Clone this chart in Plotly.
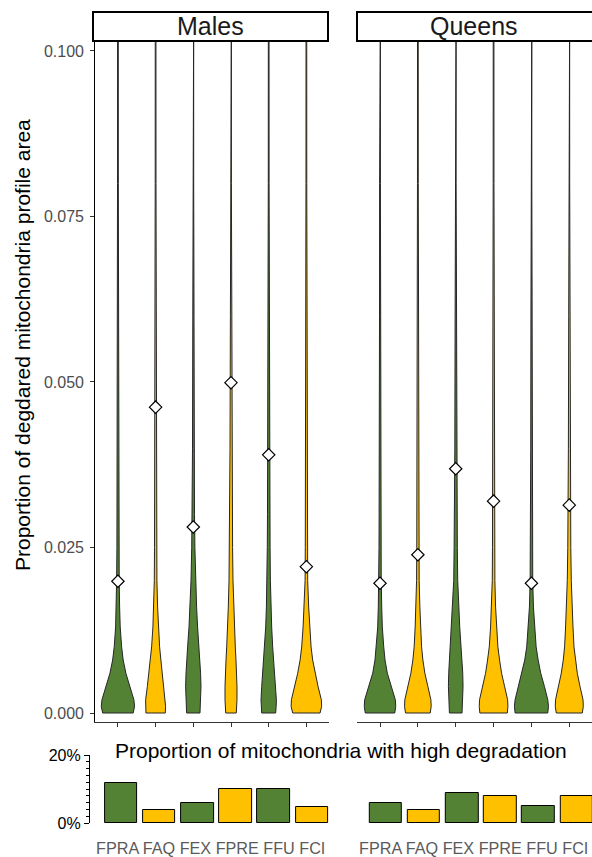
import plotly.graph_objects as go

# ---------------- data ----------------
categories = ["FPRA", "FAQ", "FEX", "FPRE", "FFU", "FCI"]
cat_colors = ["green", "yellow", "green", "yellow", "green", "yellow"]
panels = ["Males", "Queens"]

# mean values (white diamonds)
means_males = [0.0199, 0.0462, 0.0281, 0.0499, 0.0390, 0.0221]
means_queens = [0.0196, 0.0239, 0.0369, 0.0320, 0.0196, 0.0314]

# density profile levels (proportion values) and relative density (violin half-width)
levels = [0, 0.001, 0.002, 0.004, 0.006, 0.008, 0.010, 0.013, 0.016, 0.020,
          0.025, 0.030, 0.040, 0.060, 0.080, 0.105]
dens_males = {
    "FPRA": [15.3, 16.7, 16.0, 12.0, 8.0, 5.3, 3.7, 2.3, 1.7, 1.3, 1.0, 0.9, 0.7, 0.5, 0.4, 0.35],
    "FAQ":  [9.7, 10.0, 10.0, 8.3, 6.7, 5.3, 4.0, 2.7, 2.0, 1.3, 1.1, 1.0, 0.8, 0.5, 0.4, 0.35],
    "FEX":  [6.7, 7.0, 7.3, 7.7, 7.3, 6.7, 5.7, 4.3, 3.3, 2.3, 1.6, 1.2, 0.8, 0.5, 0.4, 0.35],
    "FPRE": [5.3, 5.7, 6.0, 6.0, 5.7, 5.0, 4.3, 3.3, 2.7, 2.0, 1.6, 1.4, 1.0, 0.6, 0.4, 0.35],
    "FFU":  [7.0, 7.5, 7.7, 7.0, 6.0, 5.0, 4.0, 3.0, 2.3, 1.7, 1.4, 1.2, 0.9, 0.5, 0.4, 0.35],
    "FCI":  [13.7, 15.3, 15.0, 11.7, 8.7, 6.3, 4.7, 3.3, 2.3, 1.3, 1.1, 1.0, 0.7, 0.5, 0.4, 0.35],
}
dens_queens = {
    "FPRA": [14.7, 15.7, 15.3, 11.0, 7.3, 5.0, 3.7, 2.3, 1.7, 1.2, 1.0, 0.9, 0.6, 0.5, 0.4, 0.35],
    "FAQ":  [12.3, 13.3, 13.0, 10.0, 7.0, 5.0, 3.7, 2.7, 2.0, 1.3, 1.1, 1.0, 0.7, 0.5, 0.4, 0.35],
    "FEX":  [6.3, 6.7, 7.0, 7.3, 7.0, 6.3, 5.3, 4.0, 3.0, 2.0, 1.6, 1.3, 0.9, 0.6, 0.4, 0.35],
    "FPRE": [13.7, 14.3, 14.0, 11.0, 8.0, 6.0, 4.3, 3.0, 2.0, 1.3, 1.1, 1.0, 0.8, 0.5, 0.4, 0.35],
    "FFU":  [16.3, 17.0, 16.3, 13.0, 9.3, 6.7, 4.7, 3.0, 2.0, 1.3, 1.1, 1.0, 0.7, 0.5, 0.4, 0.35],
    "FCI":  [13.0, 14.0, 13.7, 10.7, 8.0, 6.0, 4.7, 3.7, 2.7, 2.0, 1.5, 1.2, 0.9, 0.6, 0.4, 0.35],
}

# proportion of mitochondria with high degradation
high_males = [0.1185, 0.038, 0.059, 0.099, 0.099, 0.048]
high_queens = [0.059, 0.038, 0.088, 0.0785, 0.049, 0.0785]

y_ticks = [0.0, 0.025, 0.05, 0.075, 0.1]
y_tick_text = ["0.000", "0.025", "0.050", "0.075", "0.100"]

# ---------------- styles ----------------
COL = {"green": "#548235", "yellow": "#FFC000"}
FONT = "Liberation Sans, Arial, sans-serif"
W, H = 592, 857
DENS_SCALE = 0.45 / 17.0
pos = list(range(1, len(categories) + 1))


def px(x):
    return x / W


def py(y):
    return 1 - y / H


fig = go.Figure()


def add_violins(dens, means, xa, ya):
    for i, cat in enumerate(categories):
        c = pos[i]
        hw = [d * DENS_SCALE for d in dens[cat]]
        xs = [c - w for w in hw] + [c + w for w in reversed(hw)] + [c - hw[0]]
        ys = list(levels) + list(reversed(levels)) + [levels[0]]
        fig.add_trace(go.Scatter(
            x=xs, y=ys, mode="lines", fill="toself",
            fillcolor=COL[cat_colors[i]],
            line=dict(color="#262626", width=1),
            xaxis=xa, yaxis=ya, hoverinfo="skip", showlegend=False))
    fig.add_trace(go.Scatter(
        x=pos, y=means, mode="markers",
        marker=dict(symbol="diamond", size=9.5, color="white",
                    line=dict(color="black", width=1.2)),
        xaxis=xa, yaxis=ya, showlegend=False, cliponaxis=False))


add_violins(dens_males, means_males, "x", "y")
add_violins(dens_queens, means_queens, "x2", "y2")

bar_colors = [COL[c] for c in cat_colors]
fig.add_trace(go.Bar(x=pos, y=high_males, marker=dict(color=bar_colors, line=dict(color="black", width=1)),
                     width=0.85, xaxis="x3", yaxis="y3", showlegend=False))
fig.add_trace(go.Bar(x=pos, y=high_queens, marker=dict(color=bar_colors, line=dict(color="black", width=1)),
                     width=0.85, xaxis="x4", yaxis="y4", showlegend=False))

top_dom = [py(722), py(40)]
y_range = [-0.00136, 0.10166]
bar_dom = [py(823), py(755)]

common = dict(showgrid=False, zeroline=False, automargin=False)
fig.update_layout(
    width=W, height=H, margin=dict(l=0, r=0, t=0, b=0, autoexpand=False),
    paper_bgcolor="white", plot_bgcolor="white",
    font=dict(family=FONT, color="black"),
    bargap=0,
    xaxis=dict(domain=[px(95.3), px(329)], range=[0.4, 6.6], anchor="y",
               showline=True, linecolor="#333333", linewidth=1.3,
               ticks="outside", ticklen=4, tickcolor="#333333", tickwidth=1,
               tickvals=pos, showticklabels=False, **common),
    yaxis=dict(domain=top_dom, range=y_range, anchor="x",
               showline=True, linecolor="black", linewidth=1.3,
               ticks="outside", ticklen=4, tickcolor="#333333", tickwidth=1,
               tickvals=y_ticks, ticktext=y_tick_text, ticklabelstandoff=3,
               tickfont=dict(size=16, color="#4d4d4d"), **common),
    xaxis2=dict(domain=[px(357.3), 1.0], range=[0.4, 6.6], anchor="y2",
                showline=True, linecolor="#333333", linewidth=1.3,
                ticks="outside", ticklen=4, tickcolor="#333333", tickwidth=1,
                tickvals=pos, showticklabels=False, **common),
    yaxis2=dict(domain=top_dom, range=y_range, anchor="x2",
                showline=False, showticklabels=False, ticks="", **common),
    xaxis3=dict(domain=[px(98.1), px(334.9)], range=[0.4, 6.6], anchor="y3",
                showline=False, ticks="", showticklabels=False, **common),
    yaxis3=dict(domain=bar_dom, range=[0, 0.2], anchor="free", position=px(89),
                showline=True, linecolor="black", linewidth=1.2,
                ticks="outside", ticklen=5, tickcolor="black", tickwidth=1,
                tickvals=[0, 0.2], ticktext=["0%", "20%"],
                minor=dict(tickvals=[0.02 * k for k in range(1, 10)], ticks="outside",
                           ticklen=3, tickcolor="black", tickwidth=1),
                tickfont=dict(size=16, color="black"), **common),
    xaxis4=dict(domain=[px(362.8), 1.0], range=[0.4, 6.4], anchor="y4",
                showline=False, ticks="", showticklabels=False, **common),
    yaxis4=dict(domain=bar_dom, range=[0, 0.2], anchor="x4", visible=False),
)

# facet strips
strips = [(panels[0], 93, 328, 210.5), (panels[1], 357, 600, 474)]
for label, x0, x1, xc in strips:
    fig.add_shape(type="rect", xref="paper", yref="paper",
                  x0=px(x0), x1=px(x1), y0=py(41), y1=py(12),
                  line=dict(color="black", width=2), fillcolor="white", layer="above")
    fig.add_annotation(x=px(xc), y=py(26.5),
                       xref="paper", yref="paper", text=label, showarrow=False,
                       font=dict(size=25, color="#1a1a1a"), xanchor="center", yanchor="middle")

# category labels under the bar panels (one line of text per panel)
for xl in (94, 357):
    fig.add_annotation(x=px(xl), y=py(848), xref="paper", yref="paper",
                       text=" ".join(categories), showarrow=False,
                       font=dict(size=16.2, color="#5a5a5a"), xanchor="left", yanchor="middle")

fig.add_annotation(x=px(22), y=py(345), xref="paper", yref="paper",
                   text="Proportion of degdared mitochondria profile area",
                   textangle=-90, showarrow=False, font=dict(size=21, color="black"),
                   xanchor="center", yanchor="middle")
fig.add_annotation(x=px(341), y=py(750), xref="paper", yref="paper",
                   text="Proportion of mitochondria with high degradation",
                   showarrow=False, font=dict(size=21, color="black"),
                   xanchor="center", yanchor="middle")

fig.write_html("out.html", config={"displayModeBar": False},
               post_script="document.body.style.margin='0px';document.body.style.overflow='hidden';")
